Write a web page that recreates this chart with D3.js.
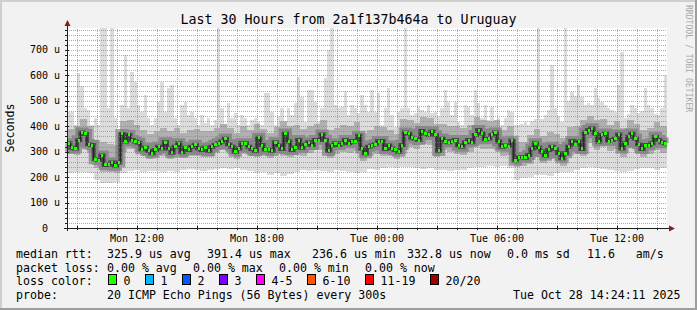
<!DOCTYPE html>
<html><head><meta charset="utf-8">
<script src="https://cdn.jsdelivr.net/npm/d3@7"></script>
<style>
html,body{margin:0;padding:0;background:#f2f2f2;}
svg{display:block;}
text{font-family:"DejaVu Sans Mono",monospace;white-space:pre;}
</style></head><body>
<svg id="c" width="697" height="310"></svg>
<script>
// ---------------- data ----------------
const title = "Last 30 Hours from 2a1f137b464a to Uruguay";
const yLabel = "Seconds";
const watermark = "RRDTOOL / TOBI OETIKER";
const yTickValues = [0, 100, 200, 300, 400, 500, 600, 700];
const startTime = new Date(2025, 9, 27, 8, 30);
const endTime = new Date(2025, 9, 28, 14, 30);
const stepMinutes = 10;       // median / max resolution
const smokeStepMinutes = 20;  // smoke band resolution

// median rtt (us), one per 10 min
const median = [
333,316,313,345,376,370,329,326,270,267,285,248,250,258,245,258,370,340,366,346,340,335,310,316,303,294,307,320,313,337,313,296,320,333,298,316,307,320,327,313,307,316,303,320,327,
333,340,352,329,320,300,313,333,333,320,311,303,355,326,309,309,303,337,324,311,372,340,307,316,346,316,329,337,326,346,346,368,346,303,324,333,326,333,346,333,342,340,363,313,294,
320,324,329,342,342,311,324,313,307,300,326,376,372,355,352,346,381,372,366,379,366,303,352,340,337,342,346,324,320,337,346,337,366,385,372,349,352,366,376,340,320,324,322,343,265,
278,278,276,287,313,333,316,300,284,307,320,311,294,274,294,320,342,329,340,311,376,385,392,372,340,366,372,342,346,352,368,313,333,359,372,352,329,311,326,324,333,359,346,337,333
];
// highest ping (us), one per 10 min
const maxPing = [
455,455,405,608,560,470,464,405,431,405,786,786,470,786,431,366,484,680,470,615,575,484,457,523,431,405,431,497,575,457,549,562,431,405,484,497,444,457,431,405,444,412,431,405,425,
786,470,405,490,431,451,405,444,431,405,425,431,418,405,530,530,457,405,438,470,418,470,444,490,595,516,418,543,543,497,418,470,589,700,786,484,470,477,540,444,484,470,451,522,484,
457,542,457,530,405,470,549,444,398,457,470,786,470,444,451,477,464,457,484,451,457,438,470,543,497,444,497,418,405,484,477,444,543,490,431,484,425,477,418,431,405,431,464,457,405,
405,410,418,405,420,430,786,430,444,464,641,470,440,418,786,500,536,520,562,516,484,490,484,549,510,497,484,470,464,458,562,693,431,450,484,470,451,460,549,484,470,450,444,470,601
];
// lowest ping (us), one per 20 min
const minPing = [
216,220,222,218,190,178,175,180,215,226,228,222,226,224,220,226,222,230,232,228,225,230,233,235,232,236,230,225,218,222,
210,215,205,212,222,228,225,230,226,222,228,224,220,216,222,232,230,236,238,236,240,238,235,232,236,230,228,226,230,228,
236,240,238,242,238,242,236,190,195,200,208,210,205,215,220,222,230,235,238,235,232,228,224,220,226,232,236,234,230,236
];
// upper edge of the dense smoke (us), one per 20 min
const smokeHigh = [
390,400,430,400,345,340,330,325,420,425,405,385,370,380,395,380,395,375,385,390,380,382,395,410,392,375,400,385,410,390,
372,398,420,400,405,390,400,410,425,385,395,405,402,415,375,385,400,398,385,370,430,425,412,435,432,410,410,402,400,392,
405,435,425,420,425,385,400,340,340,365,390,360,378,368,355,398,400,425,440,425,428,405,422,395,425,410,385,392,415,400
];
// lower edge of the dense smoke (us), one per 20 min
const smokeLow = [
290,288,320,295,235,220,222,218,300,310,300,282,270,280,285,272,290,275,282,285,280,278,295,305,290,272,298,285,280,282,
275,295,285,280,288,285,295,305,308,275,292,298,296,302,265,285,292,282,282,270,290,318,310,330,328,280,305,300,292,288,
300,322,312,312,305,285,288,240,245,252,280,255,270,262,245,285,292,285,335,305,322,302,310,280,315,295,280,290,305,295
];

const lossLabels = ["0", "1", "2", "3", "4-5", "6-10", "11-19", "20/20"];
const lossColors = ["#26ff00", "#00b8ff", "#0059ff", "#7e00ff", "#ff00ff", "#ff5500", "#ff0000", "#a10000"];
const medianStats = ["325.9 us avg", "391.4 us max", "236.6 us min", "332.8 us now", "0.0 ms sd", "11.6   am/s"];
const lossStats = ["0.00 % avg", "0.00 % max", "0.00 % min", "0.00 % now"];
const probeText = "20 ICMP Echo Pings (56 Bytes) every 300s";
const dateText = "Tue Oct 28 14:24:11 2025";

// ---------------- layout ----------------
const W = 697, H = 310;
const X0 = 67, X1 = 667, Y0 = 228, Y1 = 28;
const svg = d3.select("#c");

const x = d3.scaleTime().domain([startTime, endTime]).range([X0, X1]);
const y = d3.scaleLinear().domain([0, 786.5]).range([Y0, Y1]);

// background + 3D frame
svg.append("rect").attr("width", W).attr("height", H).attr("fill", "#f2f2f2");
svg.append("path").attr("d", `M0,0H${W}V2H2V${H}H0Z`).attr("fill", "#cfcfcf");
svg.append("path").attr("d", `M${W},0V${H}H0V${H-2}H${W-2}V0Z`).attr("fill", "#9e9e9e");
// canvas
svg.append("rect").attr("x", X0).attr("y", Y1).attr("width", X1 - X0).attr("height", Y0 - Y1).attr("fill", "#ffffff");

const g = svg.append("g").attr("shape-rendering", "crispEdges");
const stepT = i => d3.timeMinute.offset(startTime, i * stepMinutes);
const sStepT = i => d3.timeMinute.offset(startTime, i * smokeStepMinutes);

// outer smoke (min..max)
g.selectAll("rect.outer").data(maxPing).join("rect")
  .attr("x", (d, i) => x(stepT(i)))
  .attr("width", (d, i) => x(stepT(i + 1)) - x(stepT(i)))
  .attr("y", d => y(d))
  .attr("height", (d, i) => y(minPing[Math.floor(i / 2)]) - y(d))
  .attr("fill", "#dcdcdc");
// mid smoke
g.selectAll("rect.mid").data(smokeHigh).join("rect")
  .attr("x", (d, i) => x(sStepT(i)))
  .attr("width", (d, i) => x(sStepT(i + 1)) - x(sStepT(i)))
  .attr("y", d => y(d))
  .attr("height", (d, i) => y(smokeLow[i]) - y(d))
  .attr("fill", "#b0b0b0");

const medPts = median.map((d, i) => [stepT(i), d]);
medPts.push([endTime, median[median.length - 1]]);
const medLine = d3.line().x(d => x(d[0])).y(d => y(d[1])).curve(d3.curveStepAfter);
svg.append("path").attr("d", medLine(medPts)).attr("fill", "none").attr("stroke", "#707070").attr("stroke-width", 10).attr("stroke-opacity", 0.6);
svg.append("path").attr("d", medLine(medPts)).attr("fill", "none").attr("stroke", "#383838").attr("stroke-width", 4).attr("stroke-opacity", 0.8);

// grid (on top, like rrdtool)
const grid = svg.append("g").attr("shape-rendering", "crispEdges");
const minorCol = "rgba(143,143,143,0.75)", majorCol = "rgba(222,79,79,0.6)";
const minorY = d3.range(0, 787, 20).filter(v => v % 100 !== 0);
grid.selectAll("line.my").data(minorY).join("line")
  .attr("x1", X0).attr("x2", X1).attr("y1", d => Math.round(y(d)) + 0.5).attr("y2", d => Math.round(y(d)) + 0.5)
  .attr("stroke", minorCol).attr("stroke-dasharray", "1,1");
const minorX = d3.timeHour.range(startTime, endTime).filter(t => t.getHours() % 3 !== 0);
grid.selectAll("line.mx").data(minorX).join("line")
  .attr("y1", Y0).attr("y2", Y1).attr("x1", d => Math.round(x(d)) + 0.5).attr("x2", d => Math.round(x(d)) + 0.5)
  .attr("stroke", minorCol).attr("stroke-dasharray", "1,1");
grid.selectAll("line.Mx").data(d3.timeHour.every(3).range(startTime, endTime)).join("line")
  .attr("y1", Y0).attr("y2", Y1).attr("x1", d => Math.round(x(d)) + 0.5).attr("x2", d => Math.round(x(d)) + 0.5)
  .attr("stroke", majorCol).attr("stroke-dasharray", "1,1");
grid.selectAll("line.My").data(yTickValues.filter(v => v > 0)).join("line")
  .attr("x1", X0).attr("x2", X1).attr("y1", d => Math.round(y(d)) + 0.5).attr("y2", d => Math.round(y(d)) + 0.5)
  .attr("stroke", majorCol).attr("stroke-dasharray", "1,1");

// median line + loss colour blocks
svg.append("path").attr("d", medLine(medPts)).attr("fill", "none").attr("stroke", "#202020").attr("stroke-width", 1);
svg.append("g").attr("shape-rendering", "crispEdges").selectAll("rect").data(median).join("rect")
  .attr("x", (d, i) => x(stepT(i)) + 0.5)
  .attr("width", (d, i) => x(stepT(i + 1)) - x(stepT(i)) - 1)
  .attr("y", d => y(d) - 1.5).attr("height", 3)
  .attr("fill", lossColors[0]);

// axes
const ax = svg.append("g").attr("shape-rendering", "crispEdges");
ax.append("line").attr("x1", X0 - 3).attr("x2", X1 + 4).attr("y1", Y0 + 0.5).attr("y2", Y0 + 0.5).attr("stroke", "#1f1f1f");
ax.append("line").attr("x1", X0 + 0.5).attr("x2", X0 + 0.5).attr("y1", Y0 + 3).attr("y2", Y1 - 3).attr("stroke", "#1f1f1f");
svg.append("path").attr("d", `M${X1+2},${Y0-2.5}L${X1+8},${Y0+0.5}L${X1+2},${Y0+3.5}Z`).attr("fill", "#801f1f");
svg.append("path").attr("d", `M${X0-2.5},${Y1-2}L${X0+0.5},${Y1-8}L${X0+3.5},${Y1-2}Z`).attr("fill", "#801f1f");
// tick marks
ax.selectAll("line.ty").data(d3.range(0, 787, 20)).join("line")
  .attr("x1", X0 - 2).attr("x2", d => d % 100 === 0 ? X0 + 2 : X0)
  .attr("y1", d => Math.round(y(d)) + 0.5).attr("y2", d => Math.round(y(d)) + 0.5).attr("stroke", "#1f1f1f");
ax.selectAll("line.tx").data(d3.timeHour.range(startTime, endTime)).join("line")
  .attr("y1", d => d.getHours() % 3 === 0 ? Y0 - 2 : Y0).attr("y2", Y0 + 2)
  .attr("x1", d => Math.round(x(d)) + 0.5).attr("x2", d => Math.round(x(d)) + 0.5).attr("stroke", "#1f1f1f");

// tick labels
const axisFont = 10;
svg.selectAll("text.yl").data(yTickValues).join("text")
  .attr("x", 60).attr("y", d => y(d) + 3.5).attr("text-anchor", "end")
  .attr("font-size", axisFont).attr("fill", "#000")
  .text(d => d === 0 ? "0  " : d + " u");
const fmt = d3.timeFormat("%a %H:%M");
svg.selectAll("text.xl").data(d3.timeHour.every(6).range(startTime, endTime)).join("text")
  .attr("x", d => x(d)).attr("y", 241.5).attr("text-anchor", "middle")
  .attr("font-size", axisFont).attr("fill", "#000").text(d => fmt(d));

// title, unit, watermark
svg.append("text").attr("x", 348.5).attr("y", 23.5).attr("text-anchor", "middle")
  .attr("font-size", 13.3).attr("fill", "#000").text(title);
svg.append("text").attr("transform", "translate(14,128) rotate(-90)").attr("text-anchor", "middle")
  .attr("font-size", 11.6).attr("fill", "#000").text(yLabel);
svg.append("text").attr("transform", "translate(685.5,5) rotate(90)").attr("text-anchor", "start")
  .attr("font-size", 8.1).attr("fill", "#a8a8a8").text(watermark);

// legend
const LF = 11.6;
const leg = svg.append("g").attr("font-size", LF).attr("fill", "#000");
const rows = [258, 271.5, 285, 298.5];
leg.append("text").attr("x", 16).attr("y", rows[0]).text("median rtt:");
const medX = [107, 207, 312, 407, 507, 587];
medianStats.forEach((s, i) => leg.append("text").attr("x", medX[i]).attr("y", rows[0]).text(s));
leg.append("text").attr("x", 16).attr("y", rows[1]).text("packet loss:");
const lossX = [107, 193, 279, 365];
lossStats.forEach((s, i) => leg.append("text").attr("x", lossX[i]).attr("y", rows[1]).text(s));
leg.append("text").attr("x", 16).attr("y", rows[2]).text("loss color:");
const boxX = [108.5, 145.5, 182.5, 219.5, 256.5, 307.5, 365.5, 430.5];
lossLabels.forEach((s, i) => {
  leg.append("rect").attr("x", boxX[i]).attr("y", rows[2] - 10.5).attr("width", 8).attr("height", 10)
    .attr("fill", lossColors[i]).attr("stroke", "#000").attr("stroke-width", 1);
  leg.append("text").attr("x", boxX[i] + 15).attr("y", rows[2]).text(s);
});
leg.append("text").attr("x", 16).attr("y", rows[3]).text("probe:");
leg.append("text").attr("x", 107).attr("y", rows[3]).text(probeText);
leg.append("text").attr("x", 680.5).attr("y", rows[3]).attr("text-anchor", "end").text(dateText);
</script>
</body></html>
